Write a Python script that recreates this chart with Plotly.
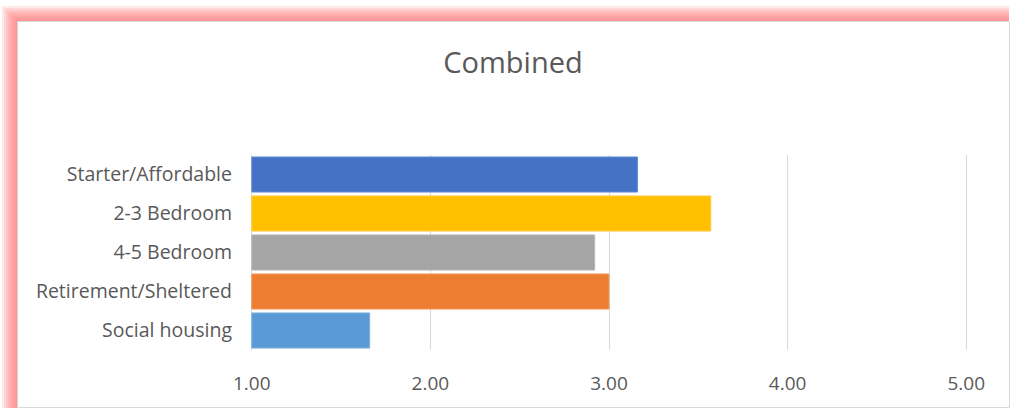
import plotly.graph_objects as go

categories = ["Starter/Affordable", "2-3 Bedroom", "4-5 Bedroom", "Retirement/Sheltered", "Social housing"]
values = [3.16, 3.57, 2.92, 3.00, 1.66]
colors = ["#4472C4", "#FFC000", "#A5A5A5", "#ED7D31", "#5B9BD5"]
edge_colors = ["#6A8FD3", "#FFCD40", "#B8B8B8", "#F19A5E", "#7DB1E0"]
tick_vals = [1, 2, 3, 4, 5]
tick_text = ["1.00", "2.00", "3.00", "4.00", "5.00"]
title_text = "Combined"

W, H = 1011, 410
L, R, T, B = 250, 43, 155, 60
PW, PH = W - L - R, H - T - B
XMIN, XMAX = 0.99, 5.01


def px(x):
    return (x - L) / PW


def py(y):
    return (H - B - y) / PH


fig = go.Figure()
fig.add_trace(go.Bar(
    y=categories,
    x=[v - 1 for v in values],
    base=1,
    orientation="h",
    marker=dict(color=colors, line=dict(color=edge_colors, width=1)),
    width=0.9,
    hoverinfo="skip",
))

shapes = []
# soft pink glow around chart area (left and top edges)
for d in [15, 13, 11, 9, 7, 5, 3, 1]:
    shapes.append(dict(
        type="rect", xref="paper", yref="paper", layer="below",
        x0=px(17 - d), x1=px(1009), y0=py(408), y1=py(21 - d),
        fillcolor="rgba(255,120,120,0.17)", line=dict(width=0),
    ))
shapes.append(dict(
    type="rect", xref="paper", yref="paper", layer="below",
    x0=px(17.5), x1=px(1009.5), y0=py(407.5), y1=py(21.5),
    fillcolor="white", line=dict(color="#D9D9D9", width=1),
))

FONT = "Open Sans, Noto Sans, sans-serif"
fig.update_layout(
    width=W, height=H,
    margin=dict(l=L, r=R, t=T, b=B),
    paper_bgcolor="white",
    plot_bgcolor="rgba(0,0,0,0)",
    showlegend=False,
    shapes=shapes,
    font=dict(family=FONT, color="#595959"),
    title=dict(text=title_text, x=513 / W, xanchor="center", y=1 - 63 / H, yanchor="middle",
               font=dict(size=29, color="#595959", family=FONT)),
    bargap=0.1,
)
fig.update_xaxes(
    range=[XMIN, XMAX], tickvals=tick_vals, ticktext=tick_text,
    showgrid=True, gridcolor="#D9D9D9", gridwidth=1, zeroline=False,
    showline=False, ticks="", ticklabelstandoff=20,
    tickfont=dict(size=19, color="#595959"), fixedrange=True,
)
fig.update_yaxes(
    autorange="reversed", showgrid=False, zeroline=False, showline=False,
    ticks="", ticklabelstandoff=17,
    tickfont=dict(size=19.5, color="#595959"), fixedrange=True,
)

fig.write_html("out.html", config={"displayModeBar": False})
